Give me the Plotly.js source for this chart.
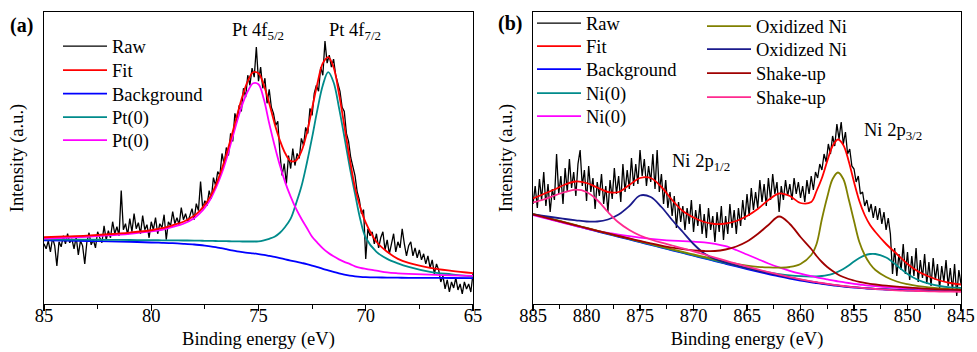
<!DOCTYPE html>
<html>
<head>
<meta charset="utf-8">
<script src="https://cdn.plot.ly/plotly-3.0.1.min.js"></script>
<style>html,body{margin:0;padding:0;background:#fff;}#chart{width:977px;height:352px;}</style>
</head>
<body>
<div id="chart"></div>
<script>
// ---------- Panel (a): Pt 4f ----------
const aRawStart = 85, aRawStep = 0.1;
const aRaw = [
60,55,63,52,66,58,38,62,57,68,
60,70,61,65,55,67,49,63,58,40,
62,71,59,64,56,72,66,61,78,64,
73,66,82,70,77,68,113,74,80,69,
85,72,90,75,81,70,88,74,79,66,
82,74,86,70,80,76,89,64,82,78,
92,80,86,79,96,84,90,82,88,95,
84,100,93,122,95,103,98,113,105,126,
118,132,128,150,139,156,148,170,162,190,
182,198,192,215,206,228,218,235,226,256,
222,236,215,225,200,214,196,190,178,182,
150,128,140,120,148,135,155,138,150,145,
165,158,176,170,195,188,210,218,212,236,
228,262,240,248,236,244,228,220,212,196,
192,170,162,146,138,128,112,104,90,94,
45,75,68,72,60,70,56,66,72,54,
64,50,60,70,52,62,56,75,60,48,
58,62,48,56,46,54,44,50,40,48,
36,44,30,40,34,22,28,15,24,12,
22,16,26,14,20,10,22,15,20,12,
30];
const aX = [85,84,83,82,81,80,79.5,79,78.5,78,77.75,77.5,77.25,77,76.75,76.5,76.25,76,75.75,75.5,75.25,75,74.75,74.5,74.25,74,73.75,73.5,73.25,73,72.75,72.5,72.25,72,71.75,71.5,71.25,71,70.75,70.5,70.25,70,69.5,69,68.5,68,67,66,65];
const aFit = [66.5,67.3,68.2,69.5,71.2,73.5,75.5,78.5,82,88,92.5,99,107,118,132,149,168,188,207,222,231,230,218,200,180,163,150,142.5,143,152,170,195,220,240,246,236,210,178,145,116,96,81,62,52,45,41,36,33,30.7];
const aBackground = [63.5,63.2,62.8,62.4,62,61.3,61,60.6,60,59.3,58.8,58.2,57.5,56.7,55.7,54.6,53.5,52.5,51.7,51,50.5,49.8,49,48,47,45.8,44.5,43.3,42.2,41,39.8,38.3,36.7,35,33.5,32,30.5,29.3,28.3,27.6,27.1,26.8,26.5,26.3,26.2,26.1,26,25.9,25.8];
const aPt72 = [64.5,64.3,64.1,64,63.8,63.6,63.5,63.4,63.3,63.2,63.1,63,62.9,62.8,62.7,62.6,62.5,62.4,62.3,62.3,62.3,62.5,63.5,65,67,71,77,85,100,117,140,166,194,218,231,221,196,167,137,110,84,66,52,45,40.5,37,32,29.5,27.3];
const aPt75 = [65.3,66,67,68.3,70,72.3,74,76.8,80,85.5,90,96,104,115,128,144,163,182,199,212,220,219,204,180,158,138,121,107,95,85,76,67,61,55.5,51,47.5,44.5,42,40,37.5,36,35,33.3,31.5,30.6,30,29.2,28.5,28];

// ---------- Panel (b): Ni 2p ----------
const bRawStart = 885, bRawStep = 0.2;
const bRaw = [
100,118,96,125,104,132,98,120,92,115,
104,150,110,128,100,136,112,145,116,132,
108,140,154,118,134,103,138,112,126,95,
122,108,130,100,118,92,124,105,136,110,
128,102,140,112,134,115,146,118,140,120,
154,128,145,118,138,122,150,115,154,112,
130,100,124,96,112,88,108,76,102,82,
98,74,96,80,104,72,94,78,100,70,
90,66,96,74,88,62,92,72,98,64,
88,70,100,76,94,70,96,78,104,84,
110,88,116,94,112,96,124,102,120,98,
126,104,130,110,122,92,118,104,124,108,
120,104,126,110,122,106,118,102,124,110,
128,114,132,126,140,134,150,142,160,150,
168,158,180,165,182,160,172,150,155,138,
135,122,128,110,112,98,104,92,100,86,
98,84,96,80,92,74,86,70,30,56,
28,50,34,60,30,52,24,48,28,56,
22,44,26,50,20,42,18,46,24,40,
16,38,22,44,18,36,14,40,8,34,
20];
const bX = [885,884,883,882,881,880,879,878,877,876,875,874,873,872,871,870,869,868,867,866,865,864,863,862,861,860,859,858.5,858,857.5,857,856.5,856,855.5,855,854.5,854,853.5,853,852,851,850,849,848,847,846,845];
const bFit = [105.5,110,114.5,119.5,122.5,121,116.5,112,112,119,126,126,117,104,93,86.5,82,80,80.5,83,88,95,104,110.5,108,101,102,113,126,143,158,164.5,159,143,122,103,89,79,72,60,50,40,32.5,27.5,23.5,21,19.5];
const bBackground = [89.5,86.6,83.8,81,78.2,75.4,72.6,69.9,67.2,64.5,61.8,59.1,56.4,53.7,51,48.3,45.6,42.9,40.2,37.6,35,32.5,30,27.7,25.5,23.5,21.7,20.9,20.1,19.4,18.7,18.1,17.5,17,16.5,16.1,15.7,15.3,15,14.5,14,13.7,13.4,13.2,13,12.9,12.8];
const bNi853 = [89.8,87,84.2,81.4,78.6,75.8,73,70.3,67.6,64.9,62.2,59.5,56.8,54.1,51.4,48.7,46,43.4,40.8,38.3,35.9,33.6,31.6,29.9,28.6,27.8,27.5,27.6,28,28.8,30.2,32.2,35,38.5,42.5,46,48.7,50,50,46.5,38.5,30,24,20.3,18,16.7,16];
const bNi868 = [89,86.2,83.4,80.6,78,75.5,73.2,71.2,69.4,67.8,66.4,65.2,64.2,63.4,62.8,62.3,61.6,60.2,57.8,54,49.5,45,40.5,36.6,33.2,30.3,27.8,26.7,25.6,24.6,23.6,22.7,21.8,21,20.2,19.5,18.9,18.3,17.8,16.9,16.1,15.4,14.8,14.3,13.9,13.6,13.3];
const bOx856 = [90.2,87.3,84.5,81.7,78.9,76.1,73.3,70.6,67.9,65.3,62.6,60,57.3,54.7,52.1,49.5,47,44.5,42.2,40.1,38.4,37.2,36.6,36.4,37,40,49,60,85,107,125,131.5,125,105,83,62,49,40,34,27,22.5,19.8,17.9,16.6,15.6,14.9,14.3];
const bOx874 = [89.5,88,86.5,85,83.7,82.5,82.5,84.5,89.5,98,108.5,107,97,84,72,60,50.5,45,41.5,38.5,35.8,33.2,30.8,28.5,26.3,24.3,22.4,21.5,20.6,19.8,19.1,18.5,17.9,17.3,16.8,16.3,15.9,15.5,15.2,14.6,14.1,13.7,13.4,13.2,13,12.9,12.8];
const bShake862 = [89.6,86.8,84,81.3,78.6,75.9,73.2,70.6,68,65.5,63,60.6,58.4,56.4,54.8,53.6,53,53,54.5,57.5,62.5,70,79,87.5,80,67,55,48,42,37,33,29.5,27,25,23.5,22.2,21.1,20.2,19.5,18.3,17.3,16.5,15.8,15.2,14.7,14.3,14];
const bShake881 = [101.5,104.5,108.5,112,114.3,112,104,92,81.5,74,68.5,64.5,61.3,58.5,55.7,52.7,49.6,46.4,43.3,40.3,37.4,34.6,31.9,29.3,26.9,24.7,22.7,21.8,21,20.2,19.4,18.7,18,17.4,16.8,16.3,15.8,15.4,15,14.3,13.7,13.3,13,12.7,12.5,12.3,12.2];

function seqX(start, step, n){ const out=[]; for(let i=0;i<n;i++) out.push(+(start - i*step).toFixed(3)); return out; }
const aRawX = seqX(aRawStart, aRawStep, aRaw.length);
const bRawX = seqX(bRawStart, bRawStep, bRaw.length);

const FONT = 'Liberation Serif, Times New Roman, serif';
const C = {raw:'#000000', fit:'#ff0000', bg:'#0000ff', teal:'#008b8b', mag:'#ff00ff', olive:'#808000', navy:'#1a1a8c', dred:'#a00000', pink:'#ff2a8f'};

function smooth(x, y, name, color, xa, ya, lg){
  return {x:x, y:y, name:name, type:'scatter', mode:'lines', xaxis:xa, yaxis:ya, legend:lg,
          line:{color:color, width:1.8, shape:'spline', smoothing:1}};
}
function rawTrace(x, y, xa, ya, lg){
  return {x:x, y:y, name:'Raw', type:'scatter', mode:'lines', xaxis:xa, yaxis:ya, legend:lg,
          line:{color:C.raw, width:1.3}};
}

// drawing order: raw first, components, fit on top; every entry has its own legend slot
const data = [
  rawTrace(aRawX, aRaw, 'x', 'y', 'legend'),
  smooth(aX, aBackground, 'Background', C.bg, 'x', 'y', 'legend3'),
  smooth(aX, aPt72, 'Pt(0)', C.teal, 'x', 'y', 'legend4'),
  smooth(aX, aPt75, 'Pt(0)', C.mag, 'x', 'y', 'legend5'),
  smooth(aX, aFit, 'Fit', C.fit, 'x', 'y', 'legend2'),

  rawTrace(bRawX, bRaw, 'x2', 'y2', 'legend6'),
  smooth(bX, bBackground, 'Background', C.bg, 'x2', 'y2', 'legend8'),
  smooth(bX, bNi853, 'Ni(0)', C.teal, 'x2', 'y2', 'legend9'),
  smooth(bX, bNi868, 'Ni(0)', C.mag, 'x2', 'y2', 'legend10'),
  smooth(bX, bOx856, 'Oxidized Ni', C.olive, 'x2', 'y2', 'legend11'),
  smooth(bX, bOx874, 'Oxidized Ni', C.navy, 'x2', 'y2', 'legend12'),
  smooth(bX, bShake862, 'Shake-up', C.dred, 'x2', 'y2', 'legend13'),
  smooth(bX, bShake881, 'Shake-up', C.pink, 'x2', 'y2', 'legend14'),
  smooth(bX, bFit, 'Fit', C.fit, 'x2', 'y2', 'legend7')
];

const xCommon = {
  showline:true, linecolor:'#000', linewidth:1.3, mirror:true,
  ticks:'outside', ticklen:6, tickwidth:1.2, tickcolor:'#000', dtick:5,
  minor:{ticks:'outside', ticklen:3.5, dtick:2.5, tickcolor:'#000', tickwidth:1.2},
  showgrid:false, zeroline:false, ticklabelstandoff:-12,
  tickfont:{family:FONT, size:18.5, color:'#000'},
  title:{text:'Binding energy (eV)', font:{family:FONT, size:18.5, color:'#000'}, standoff:7}
};
const yCommon = {
  showline:true, linecolor:'#000', linewidth:1.3, mirror:true,
  ticks:'', showticklabels:false, showgrid:false, zeroline:false,
  title:{text:'Intensity (a.u.)', font:{family:FONT, size:18.5, color:'#000'}, standoff:14}
};
// legend slot: left edge of the legend box (px) and centre of its entry (px)
function slot(xpx, cpx){
  return {font:{family:FONT, size:18.5, color:'#000'}, bgcolor:'rgba(0,0,0,0)', borderwidth:0,
    xanchor:'left', yanchor:'top', itemwidth:44, tracegroupgap:0,
    x:(xpx-44)/917, y:1-(cpx-18.5-12)/292};
}

const layout = {
  width:977, height:352,
  margin:{l:44, r:16, t:12, b:48, autoexpand:false},
  paper_bgcolor:'#fff', plot_bgcolor:'#fff',
  showlegend:true,
  xaxis:Object.assign({}, xCommon, {domain:[0,0.4678], range:[85,65], anchor:'y'}),
  yaxis:Object.assign({}, yCommon, {domain:[0,1], range:[0,291], anchor:'x'}),
  xaxis2:Object.assign({}, xCommon, {domain:[0.5333,1], range:[885,845], anchor:'y2'}),
  yaxis2:Object.assign({}, yCommon, {domain:[0,1], range:[0,292], anchor:'x2'}),
  legend:slot(58,46), legend2:slot(58,70), legend3:slot(58,93.5), legend4:slot(58,117), legend5:slot(58,140),
  legend6:slot(532,23), legend7:slot(532,46), legend8:slot(532,69), legend9:slot(532,93), legend10:slot(532,116),
  legend11:slot(702,26), legend12:slot(702,49), legend13:slot(702,73), legend14:slot(702,97),
  annotations:[
    {text:'<b>(a)</b>', xref:'paper', yref:'paper', x:-0.024, y:0.955, xanchor:'center', yanchor:'middle', showarrow:false, font:{family:FONT, size:20, color:'#000'}},
    {text:'<b>(b)</b>', xref:'paper', yref:'paper', x:0.508, y:0.96, xanchor:'center', yanchor:'middle', showarrow:false, font:{family:FONT, size:20, color:'#000'}},
    {text:'Pt 4f<sub>5/2</sub>', xref:'x', yref:'y', x:75.0, y:258, xanchor:'center', yanchor:'bottom', showarrow:false, font:{family:FONT, size:18.5, color:'#000'}},
    {text:'Pt 4f<sub>7/2</sub>', xref:'x', yref:'y', x:70.5, y:258, xanchor:'center', yanchor:'bottom', showarrow:false, font:{family:FONT, size:18.5, color:'#000'}},
    {text:'Ni 2p<sub>1/2</sub>', xref:'x2', yref:'y2', x:869.3, y:128, xanchor:'center', yanchor:'bottom', showarrow:false, font:{family:FONT, size:18.5, color:'#000'}},
    {text:'Ni 2p<sub>3/2</sub>', xref:'x2', yref:'y2', x:851.4, y:159, xanchor:'center', yanchor:'bottom', showarrow:false, font:{family:FONT, size:18.5, color:'#000'}}
  ]
};

Plotly.newPlot('chart', data, layout, {displayModeBar:false, staticPlot:true});
</script>
</body>
</html>
